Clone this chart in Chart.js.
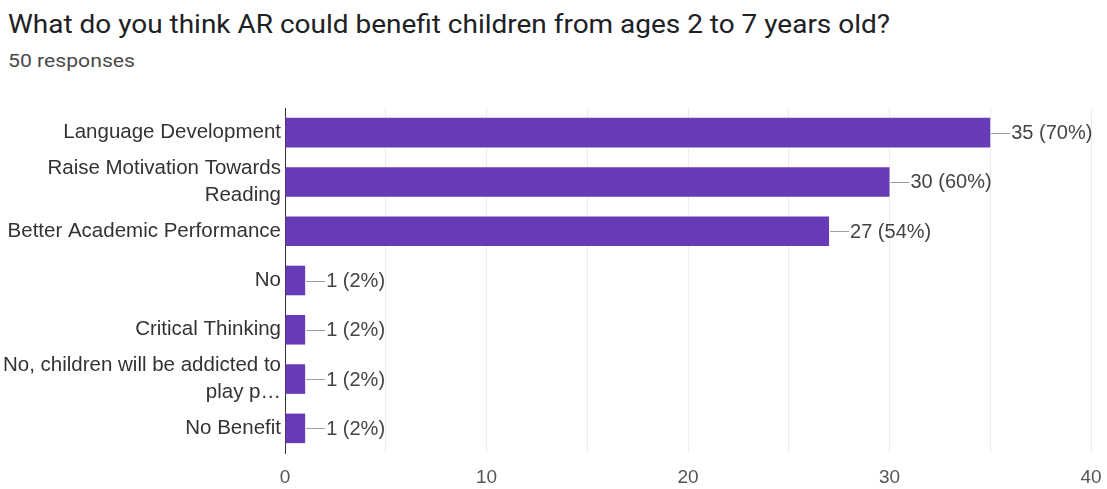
<!DOCTYPE html>
<html><head><meta charset="utf-8">
<script src="https://cdn.jsdelivr.net/npm/chart.js@4.4.1/dist/chart.umd.min.js"></script>
<style>
html,body{margin:0;padding:0;background:#fff;width:1107px;height:489px;overflow:hidden;}
#title{position:absolute;left:8px;top:10px;font-family:Roboto,"Liberation Sans",sans-serif;font-size:25px;color:#202124;white-space:nowrap;transform-origin:0 0;}
#sub{position:absolute;left:8px;top:49px;font-family:Roboto,"Liberation Sans",sans-serif;font-size:19px;color:#4a4a4a;white-space:nowrap;transform-origin:0 0;}
#wrap{position:absolute;left:0;top:0;width:1107px;height:489px;}
</style></head>
<body>
<div id="title">What do you think AR could benefit children from ages 2 to 7 years old?</div>
<div id="sub">50 responses</div>
<div id="wrap"><canvas id="c" width="1107" height="489"></canvas></div>
<script>
const categories = [
  "Language Development",
  ["Raise Motivation Towards", "Reading"],
  "Better Academic Performance",
  "No",
  "Critical Thinking",
  ["No, children will be addicted to", "play p…"],
  "No Benefit"
];
const counts = [35, 30, 27, 1, 1, 1, 1];
const totalResponses = 50;
const xTicks = [0, 10, 20, 30, 40];

function fitWidth(id, target) {
  const el = document.getElementById(id);
  const w = el.getBoundingClientRect().width;
  if (w > 0) el.style.transform = 'scaleX(' + (target / w) + ')';
}
fitWidth('title', 882);
fitWidth('sub', 127);

const FONT = '"Liberation Sans", Arial, sans-serif';

const valueLabels = {
  id: 'valueLabels',
  afterDatasetsDraw(chart) {
    const ctx = chart.ctx;
    const meta = chart.getDatasetMeta(0);
    ctx.save();
    meta.data.forEach((bar, i) => {
      const x = bar.x, y = bar.y;
      ctx.strokeStyle = '#9e9e9e';
      ctx.lineWidth = 1;
      ctx.beginPath();
      ctx.moveTo(x + 1, Math.round(y) + 0.5);
      ctx.lineTo(x + 20, Math.round(y) + 0.5);
      ctx.stroke();
      ctx.fillStyle = '#444';
      ctx.font = '20px ' + FONT;
      ctx.textAlign = 'left';
      ctx.textBaseline = 'middle';
      const pct = Math.round(counts[i] / totalResponses * 100);
      ctx.fillText(counts[i] + ' (' + pct + '%)', x + 21, y + 1);
    });
    ctx.restore();
  }
};

new Chart(document.getElementById('c'), {
  type: 'bar',
  data: {
    labels: categories,
    datasets: [{
      data: counts,
      backgroundColor: '#673ab7',
      borderWidth: 0,
      barPercentage: 0.6,
      categoryPercentage: 1.0
    }]
  },
  options: {
    indexAxis: 'y',
    responsive: false,
    animation: false,
    layout: { padding: { top: 108, right: 16, left: 0, bottom: 0 } },
    plugins: { legend: { display: false }, tooltip: { enabled: false } },
    scales: {
      x: {
        min: 0, max: 40,
        ticks: {
          stepSize: 5,
          autoSkip: false,
          maxRotation: 0,
          padding: 13,
          color: '#555',
          font: { family: FONT, size: 19 },
          callback: (v) => xTicks.includes(v) ? String(v) : ''
        },
        grid: { color: '#ececec', drawTicks: false },
        border: { display: false },
        afterFit(s) { s.height = 36; s.paddingLeft = 0; s.paddingRight = 0; }
      },
      y: {
        ticks: {
          color: '#333',
          padding: 4,
          autoSkip: false,
          font: { family: FONT, size: 20.5, lineHeight: 1.3 }
        },
        grid: { display: false, drawTicks: false },
        border: { display: true, color: '#333', width: 1 },
        afterFit(s) { s.width = 285; s.paddingTop = 0; s.paddingBottom = 0; }
      }
    }
  },
  plugins: [valueLabels]
});
</script>
</body></html>
